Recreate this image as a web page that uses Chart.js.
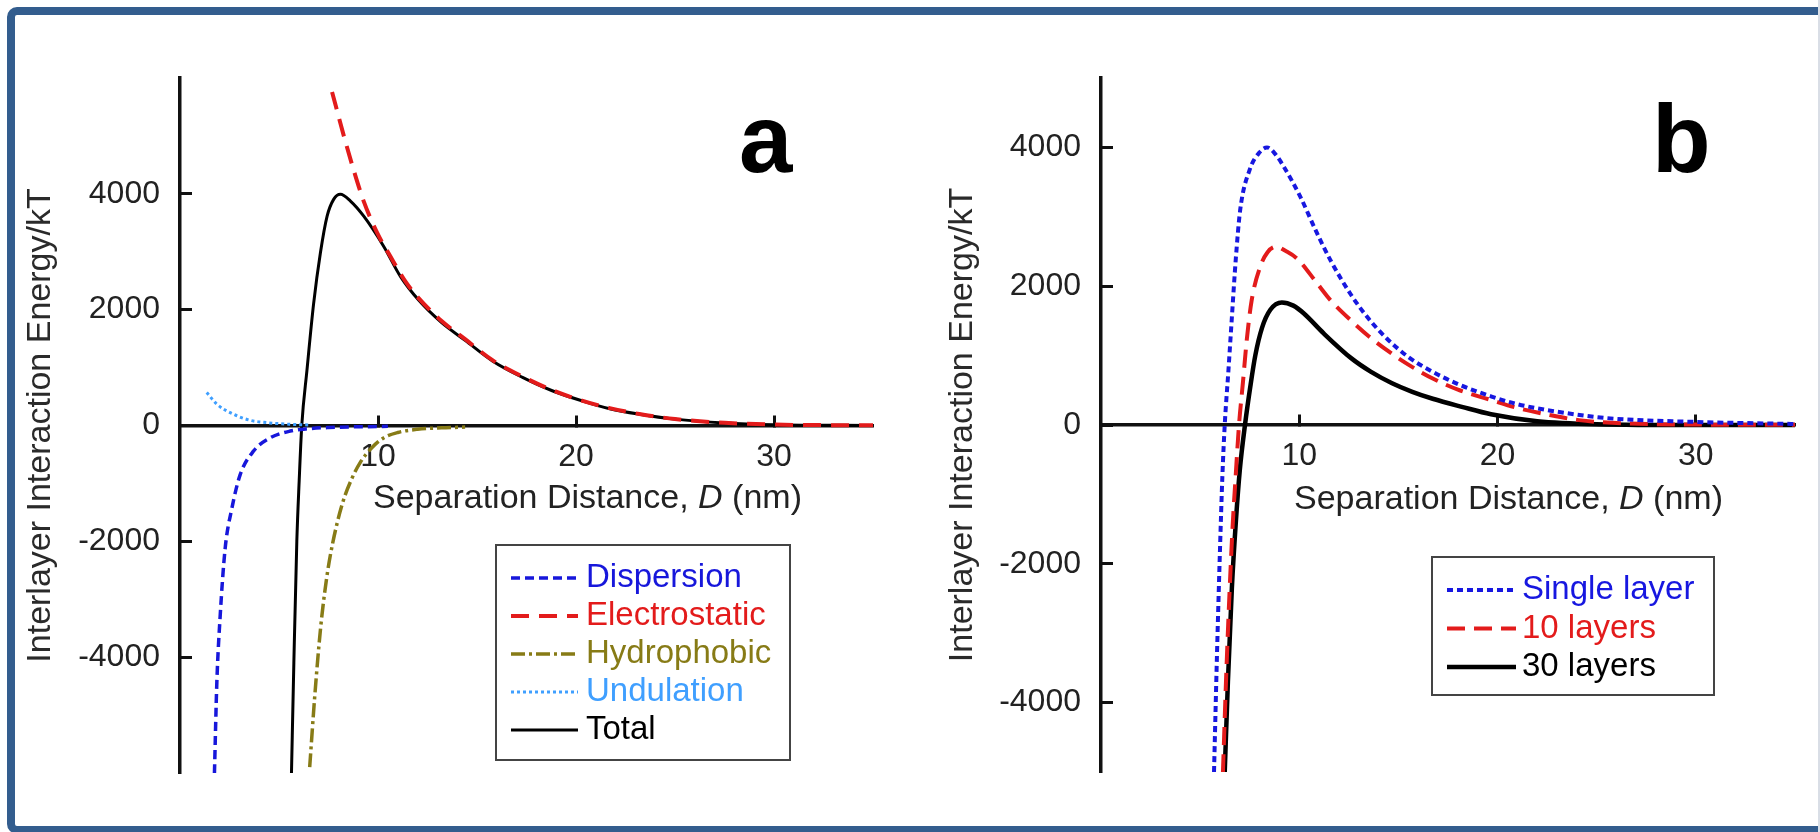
<!DOCTYPE html>
<html>
<head>
<meta charset="utf-8">
<script src="https://cdn.jsdelivr.net/npm/chart.js@4.4.1/dist/chart.umd.min.js"></script>
<style>
html,body{margin:0;padding:0;background:#fff;overflow:hidden;width:1820px;height:832px;}
#frame{position:absolute;left:7px;top:7px;width:1900px;height:827px;box-sizing:border-box;border:8px solid #335d8e;border-radius:10px;}
#edge{position:absolute;left:1818px;top:0;width:2px;height:832px;background:#d9dee6;}
#ca{position:absolute;left:0;top:0;}
#cb{position:absolute;left:910px;top:0;}
</style>
</head>
<body>
<div id="frame"></div>
<div id="edge"></div>
<canvas id="ca" width="910" height="832"></canvas>
<canvas id="cb" width="910" height="832"></canvas>
<script>
// ---------- tick labels ----------
const xTicks = [10, 20, 30];
const yTicksA = [-4000, -2000, 0, 2000, 4000];
const yTicksB = [-4000, -2000, 0, 2000, 4000];

// ---------- panel a : series (D in nm, energy in kT) ----------
const labelsA = ['Dispersion', 'Electrostatic', 'Hydrophobic', 'Undulation', 'Total'];
const dispD = [1.74, 1.86, 2.03, 2.28, 2.62, 3.04, 3.71, 4.56, 5.57, 6.5, 7.5, 8.5, 10.5];
const dispE = [-6000, -4443, -3283, -2125, -1430, -849, -443, -212, -96, -55, -35, -25, -15];
const elecD = [7.68, 8.27, 8.78, 9.28, 9.96, 10.63, 11.4, 12.05, 13.2, 14.4, 15.8, 17.3, 18.8, 20.3, 21.7, 23.2, 25, 27.5, 30, 35];
const elecE = [5760, 5005, 4400, 3870, 3325, 2918, 2480, 2200, 1810, 1490, 1125, 845, 610, 430, 300, 198, 112, 46, 16, 3];
const hydD = [6.55, 6.8, 7.1, 7.4, 7.7, 8.2, 8.7, 9.1, 9.7, 10.3, 11, 12, 13.2, 14.4];
const hydE = [-5900, -4700, -3500, -2650, -2050, -1350, -900, -640, -380, -210, -120, -65, -40, -28];
const undD = [1.35, 1.86, 2.7, 3.54, 4.39, 5.57, 6.5];
const undE = [570, 369, 195, 90, 49, 21, 10];
const totD = [5.63, 5.75, 5.9, 6.02, 6.15, 6.41, 6.75, 7.09, 7.43, 7.76, 8.1, 8.61, 9.28, 10.29, 11.14, 12.05, 13.2, 14.4, 15.8, 17.3, 18.8, 20.3, 21.7, 23.2, 25, 27.5, 30, 35];
const totE = [-6000, -4100, -2000, -950, 0, 948, 2108, 2977, 3614, 3904, 3991, 3875, 3614, 3092, 2570, 2165, 1780, 1470, 1110, 831, 600, 426, 290, 195, 110, 45, 15, 2];

// ---------- panel b : series ----------
const labelsB = ['Single layer', '10 layers', '30 layers'];
const singleD = [5.7, 5.85, 6.0, 6.12, 6.24, 6.43, 6.6, 6.8, 7.02, 7.5, 8.0, 8.37, 8.8, 9.2, 10.05, 10.9, 11.6, 12.6, 13.5, 14.4, 15.5, 16.7, 18, 19.7, 21, 22.6, 25.5, 29.9, 35];
const singleE = [-5000, -3300, -1800, -750, 0, 800, 1550, 2400, 3100, 3680, 3930, 4000, 3900, 3730, 3290, 2760, 2360, 1880, 1530, 1250, 980, 770, 590, 410, 300, 210, 100, 45, 15];
const tenD = [6.15, 6.33, 6.62, 6.8, 6.96, 7.16, 7.36, 7.6, 8.03, 8.4, 8.85, 9.3, 9.88, 10.89, 11.57, 12.63, 13.5, 14.4, 15.5, 16.73, 18, 19.67, 21, 22.6, 24.1, 26, 28, 30, 35];
const tenE = [-5000, -3490, -1560, -700, 0, 620, 1250, 1800, 2280, 2490, 2570, 2510, 2400, 2045, 1800, 1500, 1280, 1082, 870, 670, 510, 360, 245, 145, 70, 28, 12, 6, 2];
const thirtyD = [6.24, 6.4, 6.6, 6.8, 7.0, 7.27, 7.53, 7.78, 8.12, 8.54, 9.12, 9.7, 10.22, 11.23, 12.63, 13.6, 14.68, 15.7, 16.73, 18.2, 19.67, 22, 25, 30, 35];
const thirtyE = [-5000, -3700, -2350, -1400, -650, 20, 553, 1000, 1400, 1660, 1765, 1720, 1610, 1320, 960, 770, 602, 478, 378, 262, 155, 55, 12, 0, 0];

// ---------- helpers ----------
const FONT = "'Liberation Sans', Arial, Helvetica, sans-serif";
const pts = (xs, ys) => xs.map((x, i) => ({x: x, y: ys[i]}));

function line(label, xs, ys, color, width, dash) {
  return {
    label: label, data: pts(xs, ys), borderColor: color, backgroundColor: color,
    borderWidth: width, borderDash: dash, pointRadius: 0, fill: false,
    cubicInterpolationMode: 'monotone'
  };
}

function extrasPlugin(ex) {
  return {
    id: 'extras',
    afterDraw(chart) {
      const ctx = chart.ctx;
      const ca = chart.chartArea;
      const y0 = chart.scales.y.getPixelForValue(0);
      ctx.save();
      // panel letter
      ctx.fillStyle = '#000';
      ctx.font = 'bold 96px ' + FONT;
      ctx.textBaseline = 'alphabetic';
      ctx.textAlign = 'left';
      ctx.fillText(ex.letter, ex.letterX, ex.letterY);
      // x axis title with italic D
      ctx.fillStyle = '#222';
      ctx.textBaseline = 'middle';
      const parts = [['Separation Distance, ', ''], ['D', 'italic '], [' (nm)', '']];
      let tx = ca.left + 193;
      const ty = y0 + ex.titleDy;
      parts.forEach(p => {
        ctx.font = p[1] + '34px ' + FONT;
        ctx.fillText(p[0], tx, ty);
        tx += ctx.measureText(p[0]).width;
      });
      // legend
      const L = ex.legend;
      ctx.strokeStyle = '#444';
      ctx.lineWidth = 2;
      ctx.setLineDash([]);
      ctx.strokeRect(L.x, L.y, L.w, L.h);
      chart.data.datasets.forEach((ds, i) => {
        const yy = L.y0 + i * L.dy;
        ctx.beginPath();
        ctx.setLineDash(ds.borderDash || []);
        ctx.strokeStyle = ds.borderColor;
        ctx.lineWidth = ds.borderWidth;
        ctx.moveTo(L.sx0, yy);
        ctx.lineTo(L.sx1, yy);
        ctx.stroke();
        ctx.setLineDash([]);
        ctx.fillStyle = ds.borderColor;
        ctx.font = '33px ' + FONT;
        ctx.textBaseline = 'middle';
        ctx.fillText(ds.label, L.tx, yy);
      });
      ctx.restore();
    }
  };
}

function makeChart(id, datasets, yMax, yTicks, pad, yTitlePad, ex) {
  const tickFont = {family: FONT, size: 32};
  return new Chart(document.getElementById(id), {
    type: 'line',
    data: {datasets: datasets},
    options: {
      responsive: false,
      animation: false,
      events: [],
      layout: {padding: pad},
      plugins: {legend: {display: false}, tooltip: {enabled: false}},
      scales: {
        x: {
          type: 'linear', min: 0, max: 35, position: {y: 0},
          afterBuildTicks: s => { s.ticks = xTicks.map(v => ({value: v})); },
          afterFit: s => { s.paddingLeft = 0; s.paddingRight = 0; },
          ticks: {font: tickFont, color: '#222', padding: 24, maxRotation: 0, autoSkip: false, callback: v => String(v)},
          grid: {drawOnChartArea: false, drawTicks: true, tickLength: -12, tickWidth: 3, tickColor: '#111'},
          border: {display: true, color: '#111', width: 3.5}
        },
        y: {
          type: 'linear', min: -yMax, max: yMax, position: 'left',
          afterBuildTicks: s => { s.ticks = yTicks.map(v => ({value: v})); },
          afterFit: s => { s.width = pad.yAxisWidth; s.paddingTop = 0; s.paddingBottom = 0; },
          ticks: {font: tickFont, color: '#222', padding: 32, callback: v => String(v)},
          grid: {drawOnChartArea: false, drawTicks: true, tickLength: -12, tickWidth: 3, tickColor: '#111'},
          border: {display: true, color: '#111', width: 3.5},
          title: {display: true, text: 'Interlayer Interaction Energy/kT', color: '#2a2a2a',
                  font: {family: FONT, size: 34}, padding: {top: yTitlePad, bottom: 0}}
        }
      }
    },
    plugins: [extrasPlugin(ex)]
  });
}

// ---------- panel a ----------
makeChart('ca', [
  line(labelsA[0], dispD, dispE, '#1717db', 3.5, [9, 5]),
  line(labelsA[1], elecD, elecE, '#e31b1b', 4, [18, 10]),
  line(labelsA[2], hydD, hydE, '#877b16', 3.5, [14, 4, 3, 4]),
  line(labelsA[3], undD, undE, '#3f9fff', 3, [3, 3]),
  line(labelsA[4], totD, totE, '#000000', 3, [])
], 6000, yTicksA, {left: 0, right: 37, top: 78, bottom: 59, yAxisWidth: 180}, 20, {
  letter: 'a', letterX: 739, letterY: 172, titleDy: 73.5,
  legend: {x: 496, y: 545, w: 294, h: 215, y0: 578, dy: 38, sx0: 511, sx1: 578, tx: 586}
});

// ---------- panel b ----------
makeChart('cb', [
  line(labelsB[0], singleD, singleE, '#1717e0', 4, [6, 4]),
  line(labelsB[1], tenD, tenE, '#e31b1b', 4, [18, 9]),
  line(labelsB[2], thirtyD, thirtyE, '#000000', 4.5, [])
], 5000, yTicksB, {left: 0, right: 25, top: 78, bottom: 60, yAxisWidth: 191}, 32, {
  letter: 'b', letterX: 742, letterY: 172, titleDy: 75,
  legend: {x: 522, y: 557, w: 282, h: 138, y0: 590, dy: 38.5, sx0: 537, sx1: 606, tx: 612}
});
</script>
</body>
</html>
